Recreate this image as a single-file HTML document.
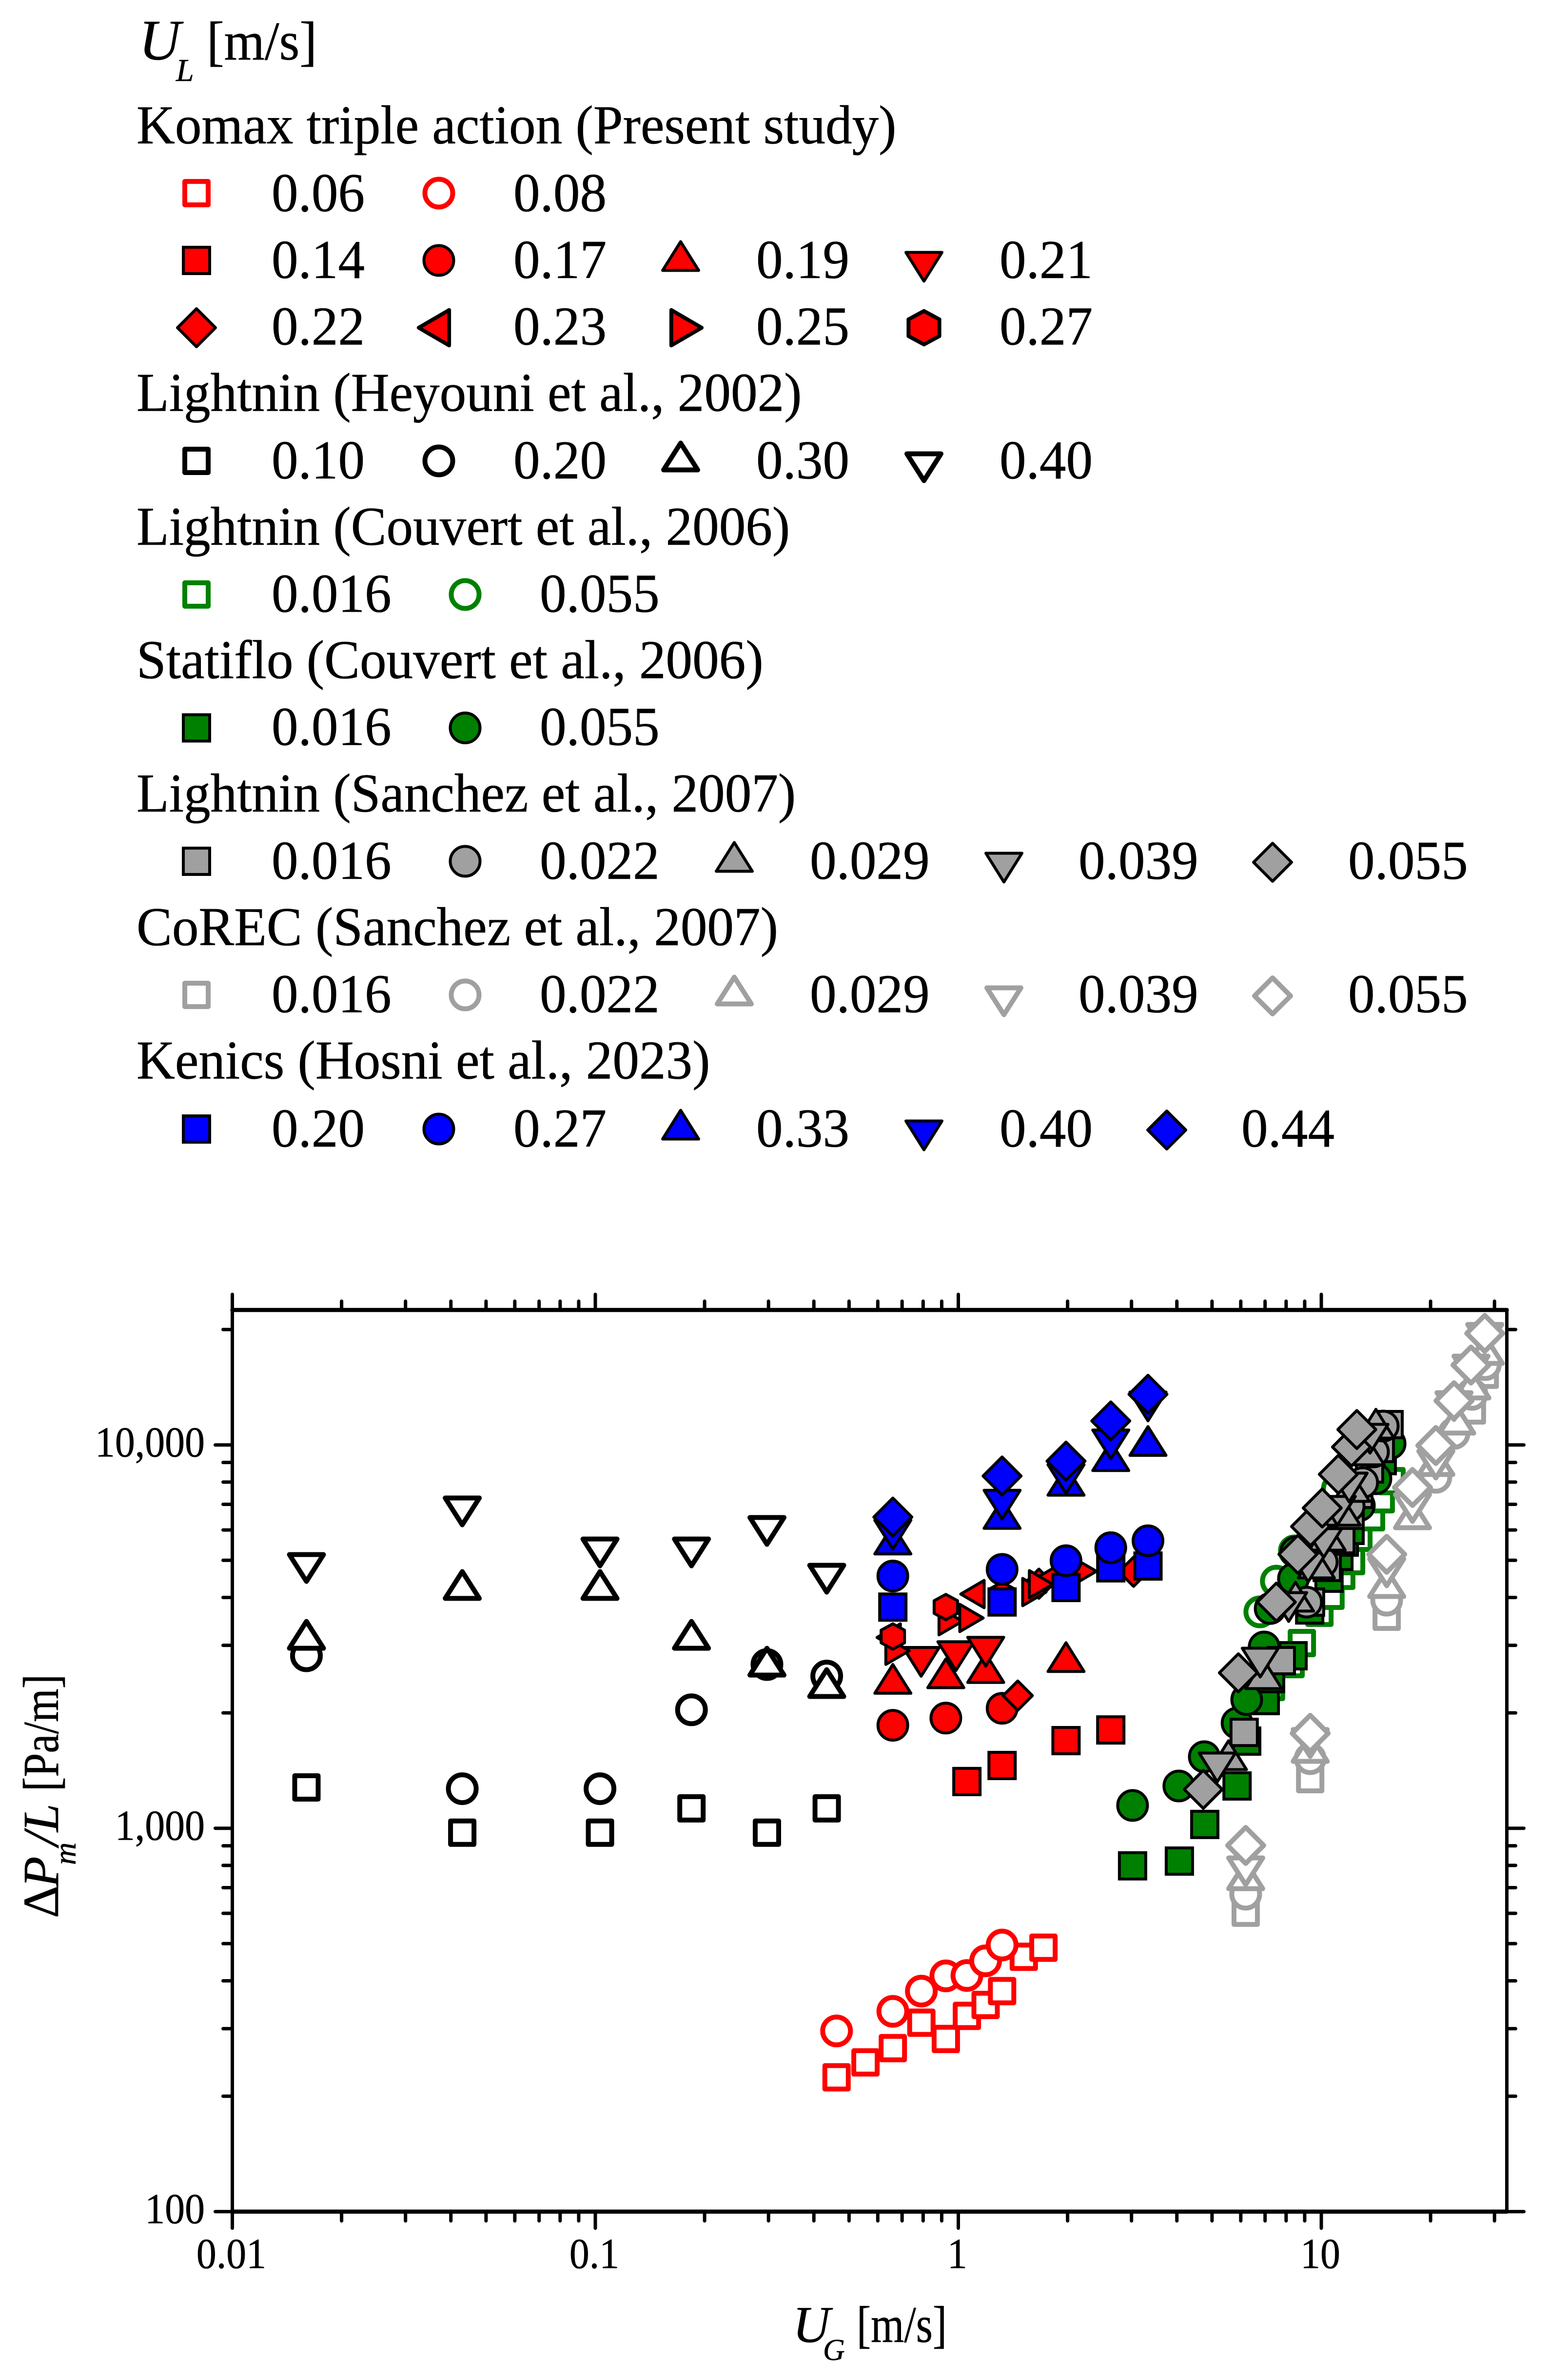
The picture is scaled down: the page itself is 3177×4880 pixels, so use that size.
<!DOCTYPE html>
<html lang="en">
<head>
<meta charset="utf-8">
<title>Pressure drop chart</title>
<style>
html,body{margin:0;padding:0;background:#fff;}
svg{display:block;}
text{font-family:"Liberation Serif","DejaVu Serif",serif;fill:#000;stroke:#000;stroke-width:.6;}
.lg{font-size:112px;transform-box:fill-box;transform-origin:0 50%;transform:scaleX(.975);}
.it{font-style:italic;}
</style>
</head>
<body>
<svg id="figure" xmlns="http://www.w3.org/2000/svg" width="3177" height="4880" viewBox="0 0 3177 4880">
<defs>
<path id="sq" d="M-27-27H27V27H-27Z" stroke-width="6" stroke-linejoin="miter"/>
<circle id="ci" r="30.5" stroke-width="6"/>
<path id="up" d="M0-29.5L37 29.5H-37Z" stroke-width="6" stroke-linejoin="round"/>
<path id="dn" d="M0 29.5L37-29.5H-37Z" stroke-width="6" stroke-linejoin="round"/>
<path id="di" d="M0-39L39 0L0 39L-39 0Z" stroke-width="6" stroke-linejoin="round"/>
<path id="sd" d="M0-30L30 0L0 30L-30 0Z" stroke-width="6" stroke-linejoin="round"/>
<path id="le" d="M24-28V28L-24 0Z" stroke-width="6" stroke-linejoin="round"/>
<path id="ri" d="M-24-28V28L24 0Z" stroke-width="6" stroke-linejoin="round"/>
<path id="he" d="M0-26L24-13V13L0 26L-24 13V-13Z" stroke-width="6" stroke-linejoin="round"/>
<path id="osq" d="M-24-24H24V24H-24Z" stroke-width="10" stroke-linejoin="round"/>
<circle id="oci" r="28.5" stroke-width="10"/>
<path id="oup" d="M0-27.5L35 27.5H-35Z" stroke-width="10" stroke-linejoin="round"/>
<path id="odn" d="M0 27.5L35-27.5H-35Z" stroke-width="10" stroke-linejoin="round"/>
<path id="odi" d="M0-37L37 0L0 37L-37 0Z" stroke-width="10" stroke-linejoin="round"/>
</defs>

<g id="legend">
<text x="285" y="122" font-size="118" class="it">U</text>
<text x="361" y="166" class="it" font-size="66">L</text>
<text x="424" y="122" font-size="112" textLength="226" lengthAdjust="spacingAndGlyphs">[m/s]</text>

<text class="lg" x="280" y="294">Komax triple action (Present study)</text>
<use href="#osq" transform="translate(403,396)" fill="#fff" stroke="#f00"/>
<text class="lg" x="557" y="433">0.06</text>
<use href="#oci" transform="translate(900,396)" fill="#fff" stroke="#f00"/>
<text class="lg" x="1053" y="433">0.08</text>

<use href="#sq" transform="translate(403,534)" fill="#f00" stroke="#000"/>
<text class="lg" x="557" y="570">0.14</text>
<use href="#ci" transform="translate(900,534)" fill="#f00" stroke="#000"/>
<text class="lg" x="1053" y="570">0.17</text>
<use href="#up" transform="translate(1396,525)" fill="#f00" stroke="#000"/>
<text class="lg" x="1551" y="570">0.19</text>
<use href="#dn" transform="translate(1895,547)" fill="#f00" stroke="#000"/>
<text class="lg" x="2050" y="570">0.21</text>

<use href="#di" transform="translate(403,672)" fill="#f00" stroke="#000"/>
<text class="lg" x="557" y="706.5">0.22</text>
<use href="#le" transform="translate(890,672) scale(1.3)" fill="#f00" stroke="#000" stroke-width="4.6"/>
<text class="lg" x="1053" y="706.5">0.23</text>
<use href="#ri" transform="translate(1408,672) scale(1.3)" fill="#f00" stroke="#000"/>
<text class="lg" x="1551" y="706.5">0.25</text>
<use href="#he" transform="translate(1895,672) scale(1.32)" fill="#f00" stroke="#000"/>
<text class="lg" x="2050" y="706.5">0.27</text>

<text class="lg" x="280" y="842.5">Lightnin (Heyouni et al., 2002)</text>
<use href="#osq" transform="translate(403,945)" fill="#fff" stroke="#000"/>
<text class="lg" x="557" y="981">0.10</text>
<use href="#oci" transform="translate(900,945)" fill="#fff" stroke="#000"/>
<text class="lg" x="1053" y="981">0.20</text>
<use href="#oup" transform="translate(1396,936)" fill="#fff" stroke="#000"/>
<text class="lg" x="1551" y="981">0.30</text>
<use href="#odn" transform="translate(1895,958)" fill="#fff" stroke="#000"/>
<text class="lg" x="2050" y="981">0.40</text>

<text class="lg" x="280" y="1117">Lightnin (Couvert et al., 2006)</text>
<use href="#osq" transform="translate(403,1219)" fill="#fff" stroke="#008000"/>
<text class="lg" x="557" y="1254.6">0.016</text>
<use href="#oci" transform="translate(954,1219)" fill="#fff" stroke="#008000"/>
<text class="lg" x="1107" y="1254.6">0.055</text>

<text class="lg" x="280" y="1390.7">Statiflo (Couvert et al., 2006)</text>
<use href="#sq" transform="translate(403,1492.5)" fill="#008000" stroke="#000"/>
<text class="lg" x="557" y="1527.5">0.016</text>
<use href="#ci" transform="translate(954,1492.5)" fill="#008000" stroke="#000"/>
<text class="lg" x="1107" y="1527.5">0.055</text>

<text class="lg" x="280" y="1664">Lightnin (Sanchez et al., 2007)</text>
<use href="#sq" transform="translate(403,1766)" fill="#a0a0a0" stroke="#000"/>
<text class="lg" x="557" y="1802">0.016</text>
<use href="#ci" transform="translate(954,1766)" fill="#a0a0a0" stroke="#000"/>
<text class="lg" x="1107" y="1802">0.022</text>
<use href="#up" transform="translate(1506,1757)" fill="#a0a0a0" stroke="#000"/>
<text class="lg" x="1661" y="1802">0.029</text>
<use href="#dn" transform="translate(2059,1779)" fill="#a0a0a0" stroke="#000"/>
<text class="lg" x="2212" y="1802">0.039</text>
<use href="#di" transform="translate(2610,1768)" fill="#a0a0a0" stroke="#000"/>
<text class="lg" x="2765" y="1802">0.055</text>

<text class="lg" x="280" y="1938">CoREC (Sanchez et al., 2007)</text>
<use href="#osq" transform="translate(403,2040)" fill="#fff" stroke="#a0a0a0"/>
<text class="lg" x="557" y="2075.6">0.016</text>
<use href="#oci" transform="translate(954,2040)" fill="#fff" stroke="#a0a0a0"/>
<text class="lg" x="1107" y="2075.6">0.022</text>
<use href="#oup" transform="translate(1506,2031)" fill="#fff" stroke="#a0a0a0"/>
<text class="lg" x="1661" y="2075.6">0.029</text>
<use href="#odn" transform="translate(2059,2053)" fill="#fff" stroke="#a0a0a0"/>
<text class="lg" x="2212" y="2075.6">0.039</text>
<use href="#odi" transform="translate(2610,2042)" fill="#fff" stroke="#a0a0a0"/>
<text class="lg" x="2765" y="2075.6">0.055</text>

<text class="lg" x="280" y="2211.6">Kenics (Hosni et al., 2023)</text>
<use href="#sq" transform="translate(403,2315)" fill="#00f" stroke="#000"/>
<text class="lg" x="557" y="2351">0.20</text>
<use href="#ci" transform="translate(900,2315)" fill="#00f" stroke="#000"/>
<text class="lg" x="1053" y="2351">0.27</text>
<use href="#up" transform="translate(1396,2306)" fill="#00f" stroke="#000"/>
<text class="lg" x="1551" y="2351">0.33</text>
<use href="#dn" transform="translate(1895,2328)" fill="#00f" stroke="#000"/>
<text class="lg" x="2050" y="2351">0.40</text>
<use href="#di" transform="translate(2393,2317)" fill="#00f" stroke="#000"/>
<text class="lg" x="2546" y="2351">0.44</text>
</g>

<g id="plot"></g>
<g id="frame"></g>

<g>
<text x="1626" y="4802" font-size="106" class="it">U</text>
<text x="1688" y="4839" font-size="62" class="it">G</text>
<text x="1757" y="4802" font-size="106" textLength="185" lengthAdjust="spacingAndGlyphs">[m/s]</text>
</g>
<g>
<text transform="translate(119,3933) rotate(-90)" font-size="104">Δ</text>
<text transform="translate(119,3870) rotate(-90)" font-size="104" class="it">P</text>
<text transform="translate(155,3824) rotate(-90)" font-size="64" class="it">m</text>
<text transform="translate(119,3785) rotate(-90)" font-size="104" class="it">/L</text>
<text transform="translate(119,3673) rotate(-90)" font-size="104" textLength="240" lengthAdjust="spacingAndGlyphs">[Pa/m]</text>
</g>
</svg>

<script>
// Axis ticks
const xMajorTicks = [0.01, 0.1, 1, 10];
const xMajorLabels = ['0.01', '0.1', '1', '10'];
const xMinorTicks = [0.02,0.03,0.04,0.05,0.06,0.07,0.08,0.09,0.2,0.3,0.4,0.5,0.6,0.7,0.8,0.9,2,3,4,5,6,7,8,9,20,30];
const yMajorTicks = [100, 1000, 10000];
const yMajorLabels = ['100', '1,000', '10,000'];
const yMinorTicks = [200,300,400,500,600,700,800,900,2000,3000,4000,5000,6000,7000,8000,9000,20000];

// Komax triple action (present study)
const komax006X = [0.462,0.555,0.66,0.791,0.924,1.056,1.189,1.32,1.515,1.716];
const komax006Y = [224,245,267,311,282,324,346,376,462,488];
const komax008X = [0.462,0.66,0.791,0.924,1.056,1.189,1.32];
const komax008Y = [296,333,376,412,413,451,496];
const komax014X = [1.056,1.32,1.98,2.63];
const komax014Y = [1324,1458,1693,1805];
const komax017X = [0.66,0.924,1.32];
const komax017Y = [1856,1938,2056];
const komax019X = [0.66,0.924,1.19,1.98];
const komax019Y = [2453,2536,2618,2795];
const komax021X = [0.79,0.985,1.19];
const komax021Y = [2717,2812,2888];
const komax022X = [1.458,1.667,3.04];
const komax022Y = [2218,4344,4668];
const komax023X = [0.643,1.094,1.775];
const komax023Y = [3146,4083,4507];
const komax025X = [0.68,0.953,1.087,1.62,1.69,2.23];
const komax025Y = [2904,3468,3537,4132,4330,4681];
const komax027X = [0.66,0.924,1.32];
const komax027Y = [3164,3777,4064];

// Lightnin (Heyouni et al., 2002)
const heyouniX = [0.016,0.043,0.103,0.184,0.297,0.434];
const heyouni010Y = [1278,974,974,1127,974,1127];
const heyouni020Y = [2818,1268,1268,2037,2674,2495];
const heyouni030Y = [3196,4311,4311,3196,2720,2392];
const heyouni040Y = [4775,6708,5243,5243,5966,4477];

// Lightnin (Couvert et al., 2006)
const couvert0016X = [7.27,8.23,8.84,9.88,10.6,11.35,12.08,12.65,13.71,14.58,15.61];
const couvert0016Y = [2336,2681,3041,3648,4041,4556,4976,5727,6476,7216,8044];
const couvert0055X = [6.77,7.52,8.43,11.07];
const couvert0055Y = [3669,4412,5291,7676];

// Statiflo (Couvert et al., 2006)
const statiflo0016X = [3.02,4.065,4.775,5.86,6.23,7.01,7.25,8.36,9.29,10.5,11.18,11.57,12.0,14.72];
const statiflo0016Y = [798,821,1023,1289,1688,2153,2456,2818,3711,4490,5122,5578,5984,9097];
const statiflo0055X = [3.02,4.05,4.76,5.86,6.23,6.96,7.23,8.38,8.51,12.73,14.14,15.47];
const statiflo0055Y = [1147,1289,1537,1881,2165,2971,3744,4478,5260,6948,8161,10080];

// Lightnin (Sanchez et al., 2007)
const sanchez0016X = [6.13,7.76,9.34,10.38,11.32,12.0,12.69,13.58,14.54,15.37];
const sanchez0016Y = [1779,2737,3890,4791,5660,6552,7431,8654,9787,11300];
const sanchez0022X = [9.11,10.06,11.93,13.0,13.92,14.81];
const sanchez0022Y = [3890,4947,6927,7974,9590,11200];
const sanchez0029X = [5.55,6.94,8.49,9.69,10.38,11.42,12.11,13.29,14.14];
const sanchez0029Y = [1551,2522,4018,4904,5794,6729,7768,9675,11360];
const sanchez0039X = [5.17,6.79,8.13,9.2,10.15,11.07,11.93,13.62];
const sanchez0039Y = [1441,2705,3777,4791,5546,6729,7744,10380];
const sanchez0055X = [4.73,5.91,7.52,8.62,9.34,10.06,11.14,12.11,12.53];
const sanchez0055Y = [1263,2544,3890,5183,6126,6846,8380,9874,10970];

// CoREC (Sanchez et al., 2007)
const corec0016X = [6.19,9.32,15.14,26.0,28.2];
const corec0016Y = [602,1343,3563,12300,15240];
const corec0022X = [6.19,9.32,15.14,20.68,23.2,26.0,28.3];
const corec0022Y = [673,1519,3936,8235,10720,13550,16200];
const corec0029X = [6.19,9.32,15.14,17.83,20.68,23.6,26.0,28.3];
const corec0029Y = [754,1620,4361,6592,9072,11640,14370,17690];
const corec0039X = [6.19,9.32,15.14,17.83,20.68,23.2,25.84,28.2];
const corec0039Y = [772,1669,4651,6846,8887,12630,15730,19030];
const corec0055X = [6.19,9.32,15.14,17.83,20.68,23.2,25.84,28.2];
const corec0055Y = [902,1769,5183,7744,9964,13040,16160,19540];

// Kenics (Hosni et al., 2023)
const kenicsX = [0.66,1.32,1.98,2.63,3.33];
const kenics020Y = [3776,3892,4247,4778,4831];
const kenics027Y = [4550,4735,4989,5395,5623];
const kenics033Y = [5664,6607,8063,9347,10240];
const kenics040Y = [5834,6983,8147,10032,12600];
const kenics044Y = [6483,8298,9072,11549,13552];

const X0 = 476.5, XDEC = 744.5, Y100 = 4534.7, YDEC = 786;
const PLOT_RIGHT = 3090.5, PLOT_TOP = 2686;
const SVGNS = 'http://www.w3.org/2000/svg';

function xScale(v) { return X0 + (Math.log10(v) + 2) * XDEC; }
function yScale(v) { return Y100 - (Math.log10(v) - 2) * YDEC; }

const RED = '#f00', GREEN = '#008000', GREY = '#a0a0a0', BLUE = '#00f', WHITE = '#fff', BLACK = '#000';

const seriesList = [
  ['komax-006', komax006X, komax006Y, 'osq', WHITE, RED],
  ['komax-008', komax008X, komax008Y, 'oci', WHITE, RED],
  ['komax-014', komax014X, komax014Y, 'sq', RED, BLACK],
  ['komax-017', komax017X, komax017Y, 'ci', RED, BLACK],
  ['komax-019', komax019X, komax019Y, 'up', RED, BLACK],
  ['komax-021', komax021X, komax021Y, 'dn', RED, BLACK],
  ['komax-022', komax022X, komax022Y, 'sd', RED, BLACK],
  ['komax-023', komax023X, komax023Y, 'le', RED, BLACK],
  ['komax-025', komax025X, komax025Y, 'ri', RED, BLACK],
  ['komax-027', komax027X, komax027Y, 'he', RED, BLACK],
  ['heyouni-010', heyouniX, heyouni010Y, 'osq', WHITE, BLACK],
  ['heyouni-020', heyouniX, heyouni020Y, 'oci', WHITE, BLACK],
  ['heyouni-030', heyouniX, heyouni030Y, 'oup', WHITE, BLACK],
  ['heyouni-040', heyouniX, heyouni040Y, 'odn', WHITE, BLACK],
  ['couvert-lightnin-0016', couvert0016X, couvert0016Y, 'osq', WHITE, GREEN],
  ['couvert-lightnin-0055', couvert0055X, couvert0055Y, 'oci', WHITE, GREEN],
  ['statiflo-0016', statiflo0016X, statiflo0016Y, 'sq', GREEN, BLACK],
  ['statiflo-0055', statiflo0055X, statiflo0055Y, 'ci', GREEN, BLACK],
  ['corec-0016', corec0016X, corec0016Y, 'osq', WHITE, GREY],
  ['corec-0022', corec0022X, corec0022Y, 'oci', WHITE, GREY],
  ['corec-0029', corec0029X, corec0029Y, 'oup', WHITE, GREY],
  ['corec-0039', corec0039X, corec0039Y, 'odn', WHITE, GREY],
  ['corec-0055', corec0055X, corec0055Y, 'odi', WHITE, GREY],
  ['sanchez-lightnin-0016', sanchez0016X, sanchez0016Y, 'sq', GREY, BLACK],
  ['sanchez-lightnin-0022', sanchez0022X, sanchez0022Y, 'ci', GREY, BLACK],
  ['sanchez-lightnin-0029', sanchez0029X, sanchez0029Y, 'up', GREY, BLACK],
  ['sanchez-lightnin-0039', sanchez0039X, sanchez0039Y, 'dn', GREY, BLACK],
  ['sanchez-lightnin-0055', sanchez0055X, sanchez0055Y, 'di', GREY, BLACK],
  ['kenics-020', kenicsX, kenics020Y, 'sq', BLUE, BLACK],
  ['kenics-027', kenicsX, kenics027Y, 'ci', BLUE, BLACK],
  ['kenics-033', kenicsX, kenics033Y, 'up', BLUE, BLACK],
  ['kenics-040', kenicsX, kenics040Y, 'dn', BLUE, BLACK],
  ['kenics-044', kenicsX, kenics044Y, 'di', BLUE, BLACK]
];

const plot = document.getElementById('plot');
const frame = document.getElementById('frame');

seriesList.forEach(function (s) {
  const g = document.createElementNS(SVGNS, 'g');
  
  
  s[1].forEach(function (xv, i) {
    const m = document.createElementNS(SVGNS, 'use');
    m.setAttribute('href', '#' + s[3]);
    m.setAttribute('transform', 'translate(' + xScale(xv).toFixed(1) + ',' + yScale(s[2][i]).toFixed(1) + ')');
    m.setAttribute('fill', s[4]);
    m.setAttribute('stroke', s[5]);
    
    
    g.appendChild(m);
  });
  plot.appendChild(g);
});

function drawLine(x1, y1, x2, y2, w, name) {
  const l = document.createElementNS(SVGNS, 'line');
  l.setAttribute('x1', x1);
  l.setAttribute('y1', y1);
  l.setAttribute('x2', x2);
  l.setAttribute('y2', y2);
  l.setAttribute('stroke', '#000');
  l.setAttribute('stroke-width', w);
  l.setAttribute('stroke-linecap', 'round');
  
  
  frame.appendChild(l);
}

function drawLabel(x, y, str, anchor, name) {
  const t = document.createElementNS(SVGNS, 'text');
  t.setAttribute('transform', 'translate(' + x + ',' + y + ') scale(.93,1)');
  t.setAttribute('font-size', '88');
  t.setAttribute('text-anchor', anchor);
  t.textContent = str;
  
  
  frame.appendChild(t);
}

const H_W = 8.5, V_W = 7, T_W = 7;
drawLine(X0, PLOT_TOP, PLOT_RIGHT, PLOT_TOP, H_W, 'top-axis');
drawLine(X0, Y100, PLOT_RIGHT, Y100, H_W, 'x-axis');
drawLine(X0, PLOT_TOP, X0, Y100, V_W, 'y-axis');
drawLine(PLOT_RIGHT, PLOT_TOP, PLOT_RIGHT, Y100, V_W, 'right-axis');

xMajorTicks.forEach(function (v, i) {
  const px = xScale(v);
  drawLine(px, Y100, px, Y100 + 34, T_W, 'x-major-tick');
  drawLine(px, PLOT_TOP, px, PLOT_TOP - 32, T_W, 'top-major-tick');
  drawLabel(px - 2, Y100 + 116, xMajorLabels[i], 'middle', 'x-tick-label');
});
xMinorTicks.forEach(function (v) {
  const px = xScale(v);
  drawLine(px, Y100, px, Y100 + 19, T_W, 'x-minor-tick');
  drawLine(px, PLOT_TOP, px, PLOT_TOP - 18, T_W, 'top-minor-tick');
});
yMajorTicks.forEach(function (v, i) {
  const py = yScale(v);
  drawLine(X0, py, X0 - 35, py, T_W, 'y-major-tick');
  drawLine(PLOT_RIGHT, py, PLOT_RIGHT + 35, py, T_W, 'right-major-tick');
  drawLabel(420, py + 24, yMajorLabels[i], 'end', 'y-tick-label');
});
yMinorTicks.forEach(function (v) {
  const py = yScale(v);
  drawLine(X0, py, X0 - 19, py, T_W, 'y-minor-tick');
  drawLine(PLOT_RIGHT, py, PLOT_RIGHT + 18, py, T_W, 'right-minor-tick');
});
</script>
</body>
</html>
